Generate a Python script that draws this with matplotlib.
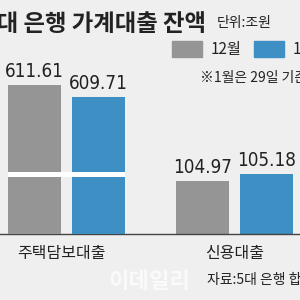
import matplotlib
matplotlib.use('Agg')
import matplotlib.pyplot as plt
from matplotlib.patches import Patch

plt.rcParams['font.family'] = ['Noto Sans CJK KR', 'DejaVu Sans']

# data
categories = ['주택담보대출', '신용대출']
dec_values = [611.61, 104.97]
jan_values = [609.71, 105.18]
series_names = ['12월', '1월']

title = '5대 은행 가계대출 잔액'
unit = '단위:조원'
note = '※1월은 29일 기준'
source = '자료:5대 은행 합산'
watermark = '이데일리'

GRAY = '#959595'
BLUE = '#3d8fc4'
BG = '#efefef'
TXT = '#222222'

fig = plt.figure(figsize=(3, 3), dpi=100, facecolor=BG)

# two overlaid axes: the mortgage group uses a broken (cut) scale
rect = [0, 66 / 300, 1, 194 / 300]
ax = fig.add_axes(rect)
ax_big = fig.add_axes(rect, sharex=ax)
ax_big.patch.set_visible(False)
ax.set_facecolor(BG)

off, w = 0.19, 0.315
ax.set_xlim(-0.396, 1.39)
ax.set_ylim(103.38, 109.2)
ax_big.set_ylim(588.03, 618.7)

# mortgage group (big scale)
b1 = ax_big.bar(0 - off, dec_values[0], width=w, color=GRAY)
b2 = ax_big.bar(0 + off, jan_values[0], width=w, color=BLUE)
# credit group (small scale)
b3 = ax.bar(1 - off, dec_values[1], width=w, color=GRAY)
b4 = ax.bar(1 + off, jan_values[1], width=w, color=BLUE)

# white cut through the tall bars
ax_big.fill_between([-off - w / 2, off + w / 2], 597.05, 597.84, color='white', lw=0)

for bars, a in [(b1, ax_big), (b2, ax_big), (b3, ax), (b4, ax)]:
    a.bar_label(bars, fmt='%.2f', padding=3, fontsize=13.5, color=TXT,
                family='DejaVu Sans', fontstretch='condensed')

for a in (ax, ax_big):
    a.set_yticks([])
    a.set_xticks([])
    for s in a.spines.values():
        s.set_visible(False)
ax.spines['bottom'].set_visible(True)
ax.spines['bottom'].set_color('#444444')
ax.spines['bottom'].set_linewidth(1)

for i, c in enumerate(categories):
    ax.text(i - 0.03 * (i == 0), -0.1, c, transform=ax.get_xaxis_transform(),
            ha='center', va='center', fontsize=11.5, color=TXT)

fig.text(206 / 300, 1 - 24 / 300, title, ha='right', va='center', fontsize=16.8,
         fontweight='bold', color=TXT)
fig.text(217 / 300, 1 - 23 / 300, unit, ha='left', va='center', fontsize=10, color=TXT)
fig.text(200 / 300, 1 - 78 / 300, note, ha='left', va='center', fontsize=10, color=TXT)
fig.text(207 / 300, 1 - 280 / 300, source, ha='left', va='center', fontsize=10, color=TXT)
fig.text(150 / 300, 1 - 281 / 300, watermark, ha='center', va='center', fontsize=16,
         fontweight='bold', color='white', alpha=0.7)

handles = [Patch(color=GRAY), Patch(color=BLUE)]
fig.legend(handles, series_names, loc='upper left', bbox_to_anchor=(172 / 300, 1 - 41 / 300),
           ncol=2, frameon=False, fontsize=11, handlelength=1.95, handleheight=1.2,
           handletextpad=0.6, columnspacing=0.8, borderpad=0, borderaxespad=0,
           labelcolor=TXT)

fig.savefig('out.png', dpi=100, facecolor=BG)
